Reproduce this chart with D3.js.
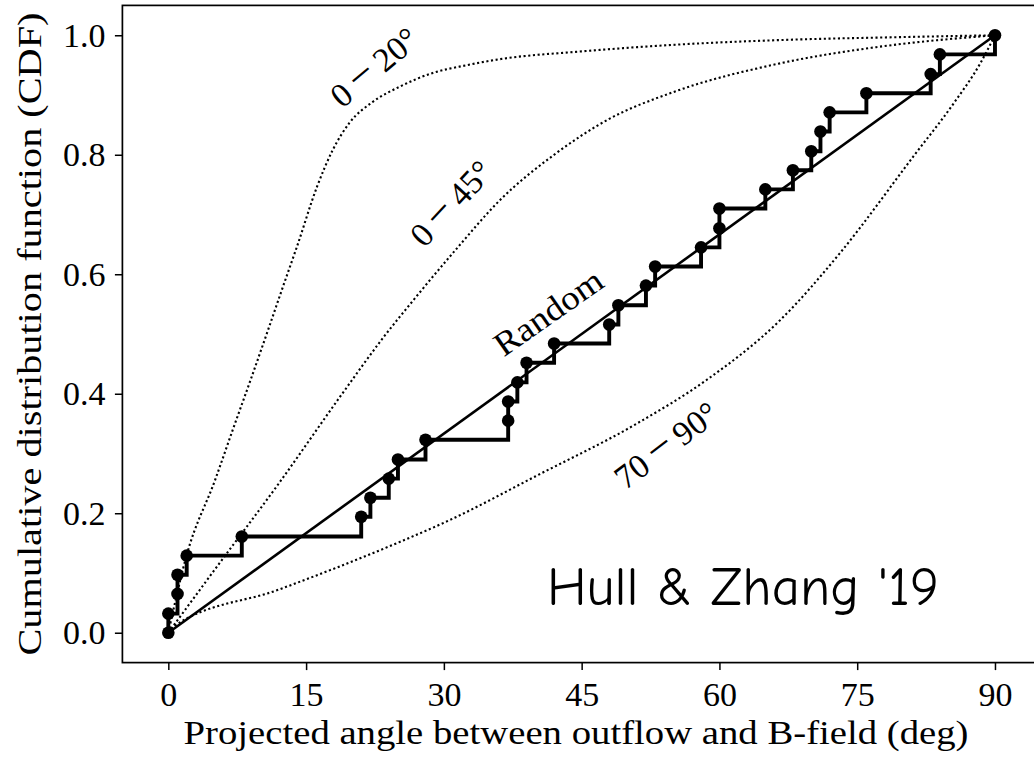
<!DOCTYPE html>
<html>
<head>
<meta charset="utf-8">
<script src="https://cdn.jsdelivr.net/npm/d3@7"></script>
<style>
  html, body { margin: 0; padding: 0; background: #fff; }
  svg { display: block; }
</style>
</head>
<body>
<svg id="chart" width="1034" height="760"></svg>
<script>
// ---------------- data ----------------
const xTicks = [0, 15, 30, 45, 60, 75, 90];
const yTicks = [0.0, 0.2, 0.4, 0.6, 0.8, 1.0];
const yTickLabels = ["0.0", "0.2", "0.4", "0.6", "0.8", "1.0"];

// observed projected angles (sorted) and their empirical CDF
const obsAngles = [0, 0, 1, 1, 2, 8, 21, 22, 24, 25, 28, 37, 37, 38, 39, 42,
                   48, 49, 52, 53, 58, 60, 60, 65, 68, 70, 71, 72, 76, 83, 84, 90];
const obsCDF = [0, 0.032, 0.065, 0.097, 0.129, 0.161, 0.194, 0.226, 0.258, 0.290,
                0.323, 0.355, 0.387, 0.419, 0.452, 0.484, 0.516, 0.548, 0.581, 0.613,
                0.645, 0.677, 0.710, 0.742, 0.774, 0.806, 0.839, 0.871, 0.903, 0.935,
                0.968, 1.0];

// model curves
const randomX = [0, 90];
const randomY = [0, 1];

const m020X = [0, 2, 5.1, 7, 9, 11, 12.5, 14, 16.2, 17.9, 19.7, 22.3, 25.2, 28.8, 32.5, 36.1, 45, 55, 66.6, 80, 90];
const m020Y = [0, 0.13, 0.256, 0.339, 0.425, 0.513, 0.58, 0.646, 0.747, 0.808, 0.853, 0.889, 0.914, 0.937, 0.950, 0.960, 0.973, 0.984, 0.992, 0.997, 1.0];

const m045X = [0, 5.6, 11.8, 18.7, 23.4, 26.7, 31.4, 36.1, 42, 48, 55, 66.6, 78, 90];
const m045Y = [0, 0.117, 0.245, 0.395, 0.494, 0.557, 0.643, 0.724, 0.80, 0.86, 0.905, 0.953, 0.982, 1.0];

const m7090X = [0, 0.55, 12, 25.2, 30.7, 40, 51, 58.6, 66.6, 73.1, 81.1, 85.5, 88.4, 90];
const m7090Y = [0, 0.010, 0.072, 0.152, 0.189, 0.262, 0.350, 0.423, 0.523, 0.635, 0.797, 0.886, 0.953, 1.0];

const annTexts = [["0", "20\u00b0"], ["0", "45\u00b0"], ["Random"], ["70", "90\u00b0"]];
const xLabel = "Projected angle between outflow and B-field (deg)";
const yLabel = "Cumulative distribution function (CDF)";
const credit = "Hull & Zhang '19";

// ---------------- drawing ----------------
const svg = d3.select("#chart");
const serif = "'Liberation Serif', 'Times New Roman', serif";

svg.append("rect").attr("width", 1034).attr("height", 760).attr("fill", "#fff");

const x = d3.scaleLinear().domain([-5, 95]).range([122.4, 1040.9]);
const y = d3.scaleLinear().domain([-0.05, 1.05]).range([662.6, 5.4]);

// dotted model curves
const curveLine = d3.line().x(d => x(d[0])).y(d => y(d[1])).curve(d3.curveMonotoneX);
[[m020X, m020Y], [m045X, m045Y], [m7090X, m7090Y]].forEach(([xs, ys]) => {
  svg.append("path")
    .attr("d", curveLine(xs.map((v, i) => [v, ys[i]])))
    .attr("fill", "none")
    .attr("stroke", "#000")
    .attr("stroke-width", 2.1)
    .attr("stroke-dasharray", "2.1,2.6");
});

// random line
svg.append("path")
  .attr("d", d3.line().x(d => x(d[0])).y(d => y(d[1]))(randomX.map((v, i) => [v, randomY[i]])))
  .attr("fill", "none")
  .attr("stroke", "#000")
  .attr("stroke-width", 2.6);

// observed step CDF
const obs = obsAngles.map((v, i) => [v, obsCDF[i]]);
svg.append("path")
  .attr("d", d3.line().x(d => x(d[0])).y(d => y(d[1])).curve(d3.curveStepAfter)(obs))
  .attr("fill", "none")
  .attr("stroke", "#000")
  .attr("stroke-width", 3.9)
  .attr("stroke-linejoin", "miter");

svg.append("g").selectAll("circle").data(obs).join("circle")
  .attr("cx", d => x(d[0]))
  .attr("cy", d => y(d[1]))
  .attr("r", 6.3)
  .attr("fill", "#000");

// curve annotations
const annPos = [
  { cx: 374, cy: 67, rot: -40 },
  { cx: 451, cy: 203, rot: -47 },
  { cx: 548, cy: 312, rot: -35 },
  { cx: 666, cy: 445, rot: -37 }
];
annTexts.forEach((parts, i) => {
  const p = annPos[i];
  const t = svg.append("text")
    .attr("transform", `translate(${p.cx},${p.cy}) rotate(${p.rot})`)
    .attr("text-anchor", "middle")
    .attr("dy", "0.35em")
    .attr("font-family", serif)
    .attr("font-size", 34);
  if (parts.length === 1) {
    t.attr("textLength", 125).attr("lengthAdjust", "spacingAndGlyphs").text(parts[0]);
  } else {
    t.append("tspan").text(parts[0] + "\u2009");
    t.append("tspan").attr("font-size", 44).text("\u2212");
    t.append("tspan").text("\u2009" + parts[1]);
  }
});

// frame
svg.append("rect")
  .attr("x", x(-5)).attr("y", y(1.05))
  .attr("width", x(95) - x(-5)).attr("height", y(-0.05) - y(1.05))
  .attr("fill", "none").attr("stroke", "#000").attr("stroke-width", 1.7);

// axes
const xAxis = svg.append("g")
  .attr("transform", `translate(0,${y(-0.05)})`)
  .call(d3.axisBottom(x).tickValues(xTicks).tickSize(7.5).tickPadding(12).tickFormat(d3.format("d")));
const yAxis = svg.append("g")
  .attr("transform", `translate(${x(-5)},0)`)
  .call(d3.axisLeft(y).tickValues(yTicks).tickSize(7.5).tickPadding(9.5)
        .tickFormat((d, i) => yTickLabels[i]));
[xAxis, yAxis].forEach(g => {
  g.select(".domain").remove();
  g.selectAll(".tick line").attr("stroke", "#000").attr("stroke-width", 1.5);
  g.selectAll(".tick text").attr("font-family", serif).attr("font-size", 34).attr("fill", "#000");
});

// axis titles
svg.append("text")
  .attr("x", 576).attr("y", 744)
  .attr("text-anchor", "middle")
  .attr("font-family", serif).attr("font-size", 34)
  .attr("textLength", 785).attr("lengthAdjust", "spacingAndGlyphs")
  .text(xLabel);

svg.append("text")
  .attr("transform", "translate(41,334) rotate(-90)")
  .attr("text-anchor", "middle")
  .attr("font-family", serif).attr("font-size", 34)
  .attr("textLength", 643).attr("lengthAdjust", "spacingAndGlyphs")
  .text(yLabel);

// credit text
svg.append("text")
  .attr("x", 547).attr("y", 605)
  .attr("font-family", "'Comic Sans MS', 'Comic Neue', 'Noto Sans', sans-serif")
  .attr("font-size", 54)
  .attr("textLength", 392).attr("lengthAdjust", "spacingAndGlyphs")
  .text(credit);
</script>
</body>
</html>
